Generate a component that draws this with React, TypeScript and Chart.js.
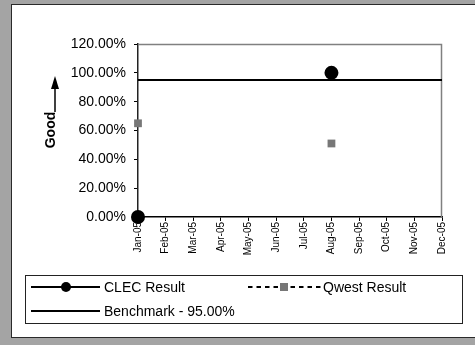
import React, { useEffect, useRef } from "react";
import { Chart, registerables } from "chart.js";

Chart.register(...registerables);

const months = ["Jan-05", "Feb-05", "Mar-05", "Apr-05", "May-05", "Jun-05", "Jul-05", "Aug-05", "Sep-05", "Oct-05", "Nov-05", "Dec-05"];
const clecResult: (number | null)[] = [0, null, null, null, null, null, null, 100, null, null, null, null];
const qwestResult: (number | null)[] = [65, null, null, null, null, null, null, 51, null, null, null, null];
const benchmark: number[] = [95, 95, 95, 95, 95, 95, 95, 95, 95, 95, 95, 95];
const yTicks = [0, 20, 40, 60, 80, 100, 120];
const labels = { clec: "CLEC Result", qwest: "Qwest Result", bench: "Benchmark - 95.00%", good: "Good" };

const FONT = "'Liberation Sans', Arial, sans-serif";

const decorPlugin = {
  id: "decor",
  beforeDraw(chart: any) {
    const { ctx, chartArea } = chart;
    ctx.save();
    ctx.fillStyle = "#ffffff";
    ctx.fillRect(chartArea.left, chartArea.top, chartArea.right - chartArea.left, chartArea.bottom - chartArea.top);
    ctx.restore();
  },
  beforeDatasetsDraw(chart: any) {
    const { ctx, chartArea } = chart;
    ctx.save();
    // top & right border of plot area
    ctx.strokeStyle = "#808080";
    ctx.lineWidth = 1.5;
    ctx.beginPath();
    ctx.moveTo(chartArea.left, chartArea.top + 0.5);
    ctx.lineTo(chartArea.right - 0.5, chartArea.top + 0.5);
    ctx.lineTo(chartArea.right - 0.5, chartArea.bottom);
    ctx.stroke();
    ctx.restore();
  },
  afterDatasetsDraw(chart: any) {
    const { ctx, chartArea } = chart;
    ctx.save();
    // "Good" arrow
    const ax = chartArea.left - 83;
    ctx.strokeStyle = "#000";
    ctx.fillStyle = "#000";
    ctx.lineWidth = 1.5;
    ctx.beginPath();
    ctx.moveTo(ax, chartArea.top + 68);
    ctx.lineTo(ax, chartArea.top + 42);
    ctx.stroke();
    ctx.beginPath();
    ctx.moveTo(ax, chartArea.top + 32);
    ctx.lineTo(ax - 4, chartArea.top + 45);
    ctx.lineTo(ax + 4, chartArea.top + 45);
    ctx.closePath();
    ctx.fill();

    ctx.translate(ax - 3.5, chartArea.top + 86);
    ctx.rotate(-Math.PI / 2);
    ctx.font = `bold 14px ${FONT}`;
    ctx.textAlign = "center";
    ctx.textBaseline = "middle";
    ctx.fillText(labels.good, 0, 0);
    ctx.restore();

    // Legend
    ctx.save();
    const lx = 25.5, ly = 275.5, lw = 437, lh = 48;
    ctx.strokeStyle = "#222";
    ctx.lineWidth = 1;
    ctx.strokeRect(lx, ly, lw, lh);
    ctx.font = `14px ${FONT}`;
    ctx.textBaseline = "middle";
    ctx.fillStyle = "#000";

    const r1 = 287, r2 = 311;
    // CLEC
    ctx.strokeStyle = "#000";
    ctx.lineWidth = 2;
    ctx.beginPath();
    ctx.moveTo(31, r1);
    ctx.lineTo(100, r1);
    ctx.stroke();
    ctx.beginPath();
    ctx.arc(66, r1, 5, 0, Math.PI * 2);
    ctx.fill();
    ctx.fillText(chart.data.datasets[0].label, 104, r1 + 1);

    // Qwest
    ctx.lineWidth = 2;
    ctx.setLineDash([4.5, 4]);
    ctx.beginPath();
    ctx.moveTo(248, r1);
    ctx.lineTo(323, r1);
    ctx.stroke();
    ctx.setLineDash([]);
    ctx.fillStyle = "#777777";
    ctx.fillRect(280, r1 - 4, 8, 8);
    ctx.fillStyle = "#000";
    ctx.fillText(chart.data.datasets[1].label, 323, r1 + 1);

    // Benchmark
    ctx.lineWidth = 2;
    ctx.beginPath();
    ctx.moveTo(31, r2);
    ctx.lineTo(100, r2);
    ctx.stroke();
    ctx.fillText(chart.data.datasets[2].label, 104, r2 + 1);
    ctx.restore();
  },
};

export default function App() {
  const ref = useRef<HTMLCanvasElement>(null);
  useEffect(() => {
    document.body.style.margin = "0";
    const chart = new Chart(ref.current!, {
      type: "line",
      data: {
        labels: months,
        datasets: [
          {
            label: labels.clec,
            data: clecResult,
            borderColor: "#000",
            backgroundColor: "#000",
            borderWidth: 2,
            pointRadius: 6,
            pointStyle: "circle",
            pointBackgroundColor: "#000",
            pointBorderColor: "#000",
            spanGaps: false,
            clip: false,
            order: 0,
          },
          {
            label: labels.qwest,
            data: qwestResult,
            borderColor: "#000",
            borderDash: [4, 4],
            borderWidth: 1.5,
            pointRadius: 5.5,
            pointStyle: "rect",
            pointBackgroundColor: "#777777",
            pointBorderColor: "#777777",
            pointBorderWidth: 0,
            spanGaps: false,
            clip: false,
            order: 1,
          },
          {
            label: labels.bench,
            data: benchmark,
            borderColor: "#000",
            borderWidth: 2,
            pointRadius: 0,
            order: 2,
          },
        ],
      },
      options: {
        animation: false,
        responsive: false,
        maintainAspectRatio: false,
        layout: { padding: { left: 20, top: 44, right: 33, bottom: 78 } },
        plugins: { legend: { display: false }, tooltip: { enabled: false } },
        scales: {
          x: {
            offset: false,
            grid: { display: true, drawOnChartArea: false, drawTicks: true, tickLength: 4, color: "#000" },
            border: { display: true, color: "#000", width: 1.5, z: -1 },
            ticks: {
              minRotation: 90,
              maxRotation: 90,
              autoSkip: false,
              padding: 1,
              color: "#000",
              font: { family: FONT, size: 10 },
            },
            afterFit: (s: any) => {
              s.height = 50;
            },
          },
          y: {
            min: 0,
            max: 120,
            afterBuildTicks: (s: any) => {
              s.ticks = yTicks.map((v) => ({ value: v }));
            },
            grid: { display: true, drawOnChartArea: false, drawTicks: true, tickLength: 4, color: "#000" },
            border: { display: true, color: "#222", width: 1.5, z: -1 },
            ticks: {
              padding: 8,
              color: "#000",
              font: { family: FONT, size: 14 },
              callback: (v: any) => Number(v).toFixed(2) + "%",
            },
            afterFit: (s: any) => {
              s.width = 118;
            },
          },
        },
      },
      plugins: [decorPlugin],
    });
    return () => chart.destroy();
  }, []);

  return (
    <div style={{ position: "fixed", left: 0, top: 0, width: 475, height: 345, background: "#a4a4a4", overflow: "hidden" }}>
      <div
        style={{
          position: "absolute",
          left: 11,
          top: 4,
          width: 480,
          height: 334,
          background: "#fff",
          border: "1.5px solid #2a2a2a",
          boxSizing: "border-box",
        }}
      />
      <canvas ref={ref} width={475} height={345} style={{ position: "absolute", left: 0, top: 0, width: 475, height: 345 }} />
    </div>
  );
}
